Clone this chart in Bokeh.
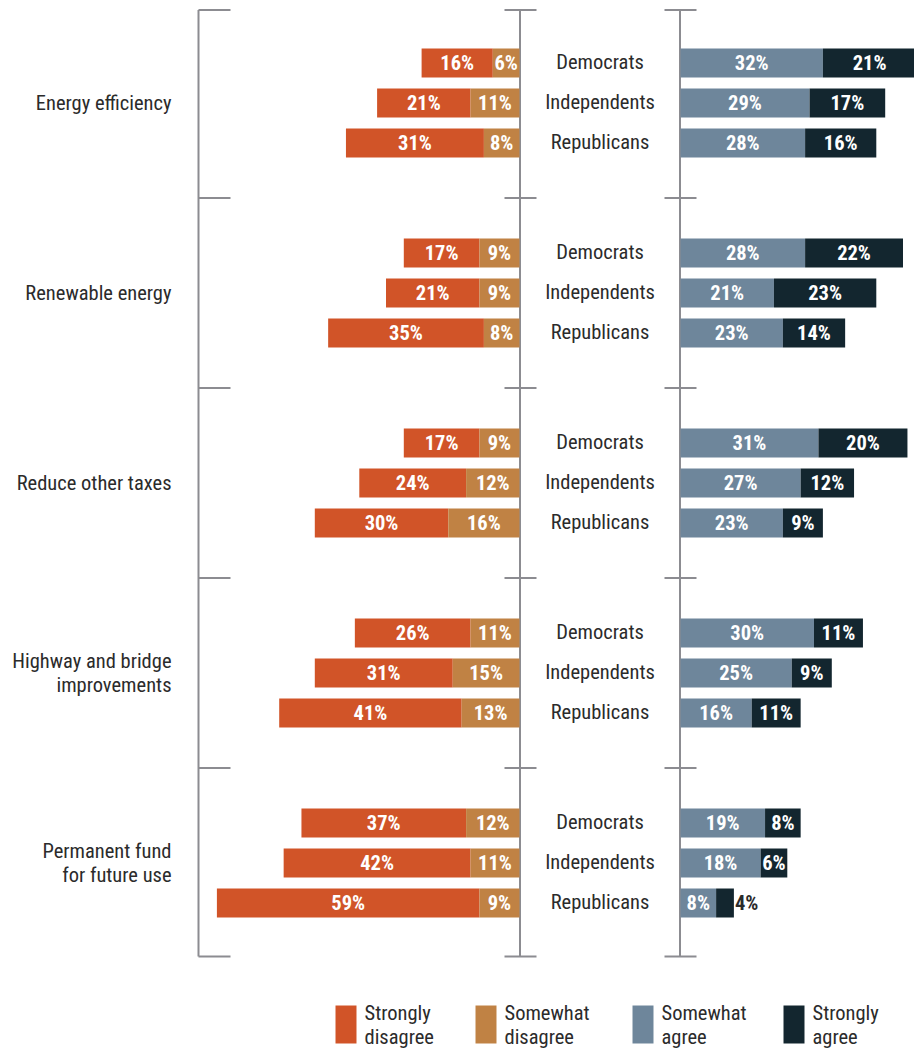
from bokeh.plotting import figure
from bokeh.models import Range1d, ColumnDataSource
from bokeh.core.properties import value
from bokeh.embed import file_html
from bokeh.resources import INLINE

# ---------------- data ----------------
categories = ["Energy efficiency", "Renewable energy", "Reduce other taxes",
              "Highway and bridge\nimprovements", "Permanent fund\nfor future use"]
parties = ["Democrats", "Independents", "Republicans"]

# per category: [Democrats, Independents, Republicans]
strongly_disagree = [[16, 21, 31], [17, 21, 35], [17, 24, 30], [26, 31, 41], [37, 42, 59]]
somewhat_disagree = [[6, 11, 8], [9, 9, 8], [9, 12, 16], [11, 15, 13], [12, 11, 9]]
somewhat_agree = [[32, 29, 28], [28, 21, 23], [31, 27, 23], [30, 25, 16], [19, 18, 8]]
strongly_agree = [[21, 17, 16], [22, 23, 14], [20, 12, 9], [11, 9, 11], [8, 6, 4]]

legend_labels = ["Strongly\ndisagree", "Somewhat\ndisagree", "Somewhat\nagree", "Strongly\nagree"]
colors = ["#D15428", "#C08244", "#6E869B", "#13262F"]

# ---------------- layout constants (pixels) ----------------
W, H = 914, 1049
S = 4.45            # pixels per percentage point
ZERO_PX = 519       # where disagree bars end
RIGHT_PX = 680      # where agree bars start
BRACKET_L_PX = 198
CAT_LABEL_PX = 171
GROUP0_Y = 102.5
GROUP_STEP = 190
ROW_STEP = 40
BAR_H = 29
LEGEND_RECT_PX = [335, 475, 632, 783]
LEGEND_Y = 1024

FONT = value("Roboto Condensed, Liberation Sans Narrow, DejaVu Sans Condensed, Roboto")
FS = "20.5px"
GRAY = "#8C8C91"
TEXT = "#2B2B2B"


def px(x):
    return (x - ZERO_PX) / S


R0 = px(RIGHT_PX)

p = figure(width=W, height=H, output_backend="svg", toolbar_location=None,
           x_range=Range1d(px(0), px(W)), y_range=Range1d(H, 0),
           min_border=0, min_border_left=0, min_border_right=0,
           min_border_top=0, min_border_bottom=0)
p.axis.visible = False
p.xgrid.visible = False
p.ygrid.visible = False
p.outline_line_color = None
p.background_fill_color = "white"
p.border_fill_color = "white"

# ---------------- brackets ----------------
ng = len(categories)
bounds = [GROUP0_Y - GROUP_STEP / 2 + GROUP_STEP * k for k in range(ng + 1)]
top, bot = bounds[0] + 2, bounds[-1] - 1.5
xl = px(BRACKET_L_PX)
xm = px(ZERO_PX + 0.5)
xr = px(RIGHT_PX - 0.5)
p.segment(x0=[xl, xm, xr], y0=[top] * 3, x1=[xl, xm, xr], y1=[bot] * 3,
          line_color=GRAY, line_width=2)
ys = [top] + bounds[1:-1] + [bot]
p.segment(x0=[xl] * len(ys), y0=ys, x1=[px(BRACKET_L_PX + 32)] * len(ys), y1=ys,
          line_color=GRAY, line_width=2)
p.segment(x0=[px(ZERO_PX - 15)] * len(ys), y0=ys, x1=[px(ZERO_PX + 17)] * len(ys), y1=ys,
          line_color=GRAY, line_width=2)
p.segment(x0=[px(RIGHT_PX - 16)] * len(ys), y0=ys, x1=[px(RIGHT_PX + 16)] * len(ys), y1=ys,
          line_color=GRAY, line_width=2)

# ---------------- bars ----------------
rows = {k: [] for k in ["y", "l1", "r1", "l2", "r2", "l3", "r3", "l4", "r4",
                        "v1", "v2", "v3", "v4"]}
for g in range(ng):
    for r in range(len(parties)):
        y = GROUP0_Y + g * GROUP_STEP + (r - 1) * ROW_STEP
        sd, swd = strongly_disagree[g][r], somewhat_disagree[g][r]
        sa, sta = somewhat_agree[g][r], strongly_agree[g][r]
        rows["y"].append(y)
        rows["l1"].append(-(sd + swd)); rows["r1"].append(-swd)
        rows["l2"].append(-swd); rows["r2"].append(0)
        rows["l3"].append(R0); rows["r3"].append(R0 + sa)
        rows["l4"].append(R0 + sa); rows["r4"].append(R0 + sa + sta)
        rows["v1"].append(sd); rows["v2"].append(swd)
        rows["v3"].append(sa); rows["v4"].append(sta)
src = ColumnDataSource(rows)
for i in range(4):
    p.hbar(y="y", left=f"l{i+1}", right=f"r{i+1}", height=BAR_H,
           fill_color=colors[i], line_color=None, source=src)

# bar value labels
lab_x, lab_y, lab_t, lab_c, lab_a = [], [], [], [], []
for i in range(4):
    for y, l, r, v in zip(rows["y"], rows[f"l{i+1}"], rows[f"r{i+1}"], rows[f"v{i+1}"]):
        if v <= 4:
            lab_x.append(r + 1 / S); lab_a.append("left"); lab_c.append(TEXT)
        else:
            lab_x.append((l + r) / 2); lab_a.append("center"); lab_c.append("white")
        lab_y.append(y)
        lab_t.append(f"{v}%")
p.text(x=lab_x, y=lab_y, text=lab_t, text_color=lab_c, text_align=lab_a,
       text_baseline="middle", text_font=FONT, text_font_style="bold",
       text_font_size=FS)

# party labels
px_x, px_y, px_t = [], [], []
for g in range(ng):
    for r, name in enumerate(parties):
        px_x.append(R0 / 2)
        px_y.append(GROUP0_Y + g * GROUP_STEP + (r - 1) * ROW_STEP - 1)
        px_t.append(name)
p.text(x=px_x, y=px_y, text=px_t, text_align="center", text_baseline="middle",
       text_color=TEXT, text_font=FONT, text_font_size=FS)

# category labels
cx, cy, ct = [], [], []
for g, cat in enumerate(categories):
    lines = cat.split("\n")
    n = len(lines)
    for j, line in enumerate(lines):
        cx.append(px(CAT_LABEL_PX))
        cy.append(GROUP0_Y + g * GROUP_STEP + (j - (n - 1) / 2) * 24)
        ct.append(line)
p.text(x=cx, y=cy, text=ct, text_align="right", text_baseline="middle",
       text_color=TEXT, text_font=FONT, text_font_size=FS)

# ---------------- legend ----------------
lx0 = [px(v) for v in LEGEND_RECT_PX]
lx1 = [px(v + 21) for v in LEGEND_RECT_PX]
p.quad(left=lx0, right=lx1, top=[LEGEND_Y - 19] * 4, bottom=[LEGEND_Y + 19] * 4,
       fill_color=colors, line_color=None)
tx, ty, tt = [], [], []
for i, lab in enumerate(legend_labels):
    for j, line in enumerate(lab.split("\n")):
        tx.append(px(LEGEND_RECT_PX[i] + 29))
        ty.append(LEGEND_Y - 12 + j * 24)
        tt.append(line)
p.text(x=tx, y=ty, text=tt, text_align="left", text_baseline="middle",
       text_color=TEXT, text_font=FONT, text_font_size=FS)

open("out.html", "w").write(file_html(p, INLINE))
